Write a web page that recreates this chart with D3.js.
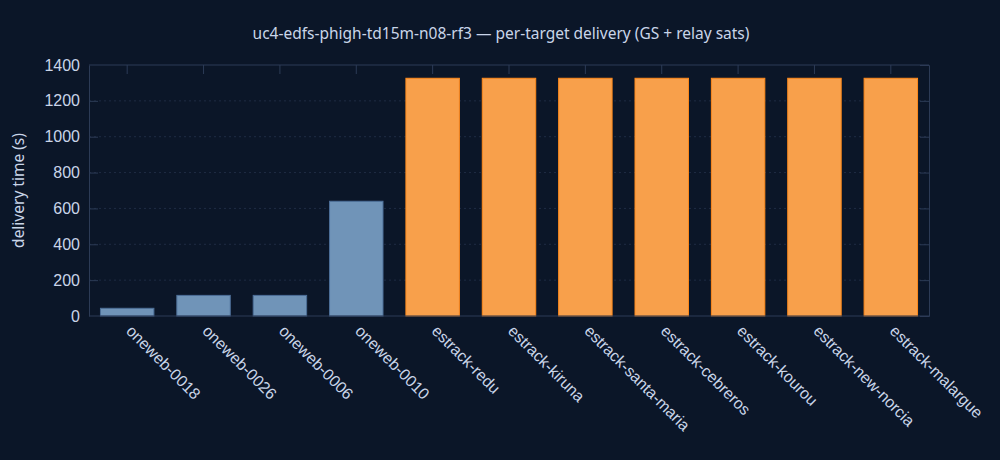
<!DOCTYPE html>
<html>
<head>
<meta charset="utf-8">
<script src="https://cdn.jsdelivr.net/npm/d3@7"></script>
<style>
  html, body { margin: 0; padding: 0; background: #0b1628; }
  svg { display: block; font-family: "Noto Sans", "Open Sans", sans-serif; }
</style>
</head>
<body>
<div id="chart"></div>
<script>
const targets = ["oneweb-0018", "oneweb-0026", "oneweb-0006", "oneweb-0010",
  "estrack-redu", "estrack-kiruna", "estrack-santa-maria", "estrack-cebreros",
  "estrack-kourou", "estrack-new-norcia", "estrack-malargue"];
const delivery = [43, 115, 115, 640, 1326, 1326, 1326, 1326, 1326, 1326, 1326];
const kinds = ["relay", "relay", "relay", "relay", "gs", "gs", "gs", "gs", "gs", "gs", "gs"];
const yTicks = [0, 200, 400, 600, 800, 1000, 1200, 1400];

const W = 1000, H = 460;
const margin = { top: 65, right: 71, bottom: 144, left: 89 };
const width = W - margin.left - margin.right;
const height = H - margin.top - margin.bottom;

const fillOf = { relay: "#7094b8", gs: "#f8a04b" };
const strokeOf = { relay: "#4d6f98", gs: "#ff8a1c" };
const axisCol = "#2c3b56";
const textCol = "#c9d5e8";

const svg = d3.select("#chart").append("svg")
  .attr("width", W).attr("height", H);

svg.append("rect").attr("width", W).attr("height", H).attr("fill", "#0b1628");

const g = svg.append("g")
  .attr("transform", "translate(" + margin.left + "," + margin.top + ")");

const x = d3.scaleBand().domain(targets).range([0, width]).paddingInner(0.3).paddingOuter(0.15);
const y = d3.scaleLinear().domain([0, 1400]).range([height, 0]);
const inner = yTicks.filter(d => d > 0 && d < 1400);

// dotted grid
g.append("g").selectAll("line").data(inner).join("line")
  .attr("x1", 0).attr("x2", width)
  .attr("y1", d => y(d)).attr("y2", d => y(d))
  .attr("stroke", "#1f2c44").attr("stroke-width", 1).attr("stroke-dasharray", "2,3");

// bars
g.append("g").selectAll("rect").data(targets).join("rect")
  .attr("x", d => x(d))
  .attr("y", (d, i) => y(delivery[i]))
  .attr("width", x.bandwidth())
  .attr("height", (d, i) => height - y(delivery[i]))
  .attr("fill", (d, i) => fillOf[kinds[i]])
  .attr("stroke", (d, i) => strokeOf[kinds[i]])
  .attr("stroke-width", 1);

// left axis with labels
const left = g.append("g").call(d3.axisLeft(y).tickValues(yTicks).tickFormat(d3.format("d")).tickSize(0).tickPadding(9));
left.select(".domain").attr("stroke", axisCol);
left.selectAll("text").attr("fill", textCol).style("font-size", "16px");

// inner mirror ticks on left and right
g.append("g").call(d3.axisRight(y).tickValues(inner).tickSize(9).tickFormat(""))
  .call(a => a.select(".domain").remove())
  .selectAll("line").attr("stroke", axisCol);
g.append("g").attr("transform", "translate(" + width + ",0)")
  .call(d3.axisLeft(y).tickValues(inner).tickSize(9).tickFormat(""))
  .call(a => a.select(".domain").attr("stroke", axisCol))
  .selectAll("line").attr("stroke", axisCol);

// top axis line with ticks at categories
g.append("g").call(d3.axisBottom(x).tickSize(9).tickFormat(""))
  .call(a => a.select(".domain").attr("stroke", axisCol).attr("d", "M0,0H" + width))
  .selectAll("line").attr("stroke", axisCol);

// bottom axis
const bottom = g.append("g").attr("transform", "translate(0," + height + ")")
  .call(d3.axisBottom(x).tickSize(0).tickPadding(0));
bottom.select(".domain").attr("stroke", axisCol).attr("d", "M0,0H" + width);
bottom.selectAll("text")
  .attr("fill", textCol).style("font-size", "16px")
  .attr("text-anchor", "start")
  .attr("dy", "0.35em")
  .attr("transform", "translate(2,12) rotate(45)");

// titles
svg.append("text").attr("x", 501).attr("y", 39).attr("text-anchor", "middle")
  .attr("fill", textCol).style("font-size", "15.5px")
  .text("uc4-edfs-phigh-td15m-n08-rf3 \u2014 per-target delivery (GS + relay sats)");

svg.append("text")
  .attr("transform", "translate(24," + (margin.top + height / 2) + ") rotate(-90)")
  .attr("text-anchor", "middle").attr("fill", textCol).style("font-size", "15.5px")
  .text("delivery time (s)");
</script>
</body>
</html>
